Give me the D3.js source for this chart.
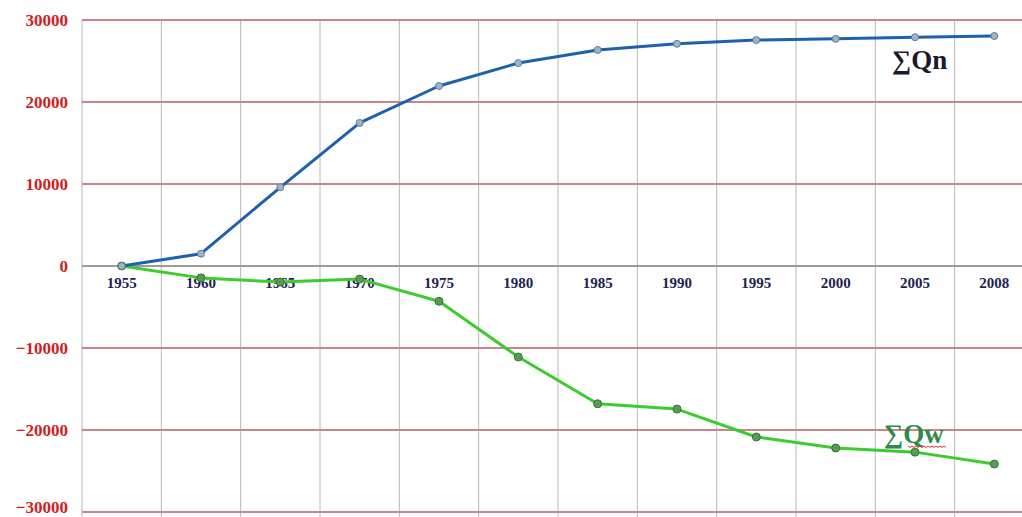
<!DOCTYPE html>
<html><head><meta charset="utf-8">
<script src="https://cdn.jsdelivr.net/npm/d3@7"></script>
<style>body{margin:0;background:#fff}svg{display:block}</style>
</head><body><svg id="c" width="1022" height="517"></svg>
<script>
const years = ["1955","1960","1965","1970","1975","1980","1985","1990","1995","2000","2005","2008"];
const qn = [0,1500,9600,17450,21950,24750,26350,27100,27550,27700,27900,28050];
const qw = [0,-1450,-1950,-1600,-4300,-11100,-16800,-17450,-20850,-22200,-22700,-24150];
const yTicks = [30000,20000,10000,0,-10000,-20000,-30000];

const svg = d3.select("#c");
const x = d3.scaleBand().domain(years).range([82, 1034]);
const y = d3.scaleLinear().domain([-30000, 30000]).range([512, 20]);

// vertical grid at band edges
svg.append("g").selectAll("line").data(years).join("line")
  .attr("x1", d => x(d)).attr("x2", d => x(d))
  .attr("y1", y(30000)).attr("y2", 517)
  .attr("stroke", "#b8b8b8").attr("stroke-width", 1);

// horizontal grid
svg.append("g").selectAll("line").data(yTicks).join("line")
  .attr("x1", 82).attr("x2", 1022)
  .attr("y1", d => y(d)).attr("y2", d => y(d))
  .attr("stroke", d => d === 0 ? "#a09a9a" : "#c8868c").attr("stroke-width", 2);

// y labels
const yAxis = d3.axisLeft(y).tickValues(yTicks).tickSize(0).tickPadding(0).tickFormat(d3.format("d"));
const ga = svg.append("g").attr("transform", "translate(68,0)").call(yAxis);
ga.select(".domain").remove();
ga.selectAll("text").attr("fill", "#d01e24").attr("font-family", "Liberation Serif")
  .attr("font-weight", "bold").attr("font-size", 17)
  .attr("dy", d => d === -30000 ? "0.05em" : "0.35em");

// x labels
const xAxis = d3.axisBottom(x).tickSize(0).tickPadding(0);
const gx = svg.append("g").attr("transform", `translate(0,${y(0)})`).call(xAxis);
gx.select(".domain").remove();
gx.selectAll("text").attr("fill", "#1c2350").attr("font-family", "Liberation Serif")
  .attr("font-weight", "bold").attr("font-size", 15).attr("dy", "1.45em");

const cx = d => x(d) + x.bandwidth() / 2;
const line = d3.line().x((d, i) => cx(years[i])).y(d => y(d));

// Qw series
svg.append("path").datum(qw).attr("d", line).attr("fill", "none")
  .attr("stroke", "#3ccc2e").attr("stroke-width", 3).attr("stroke-linejoin", "round");
svg.append("g").selectAll("circle").data(qw).join("circle")
  .attr("cx", (d, i) => cx(years[i])).attr("cy", d => y(d)).attr("r", 4)
  .attr("fill", "#5a9a55").attr("stroke", "#2f7a30").attr("stroke-width", 1);

// Qn series
svg.append("path").datum(qn).attr("d", line).attr("fill", "none")
  .attr("stroke", "#1f60ae").attr("stroke-width", 3).attr("stroke-linejoin", "round");
svg.append("g").selectAll("circle").data(qn).join("circle")
  .attr("cx", (d, i) => cx(years[i])).attr("cy", d => y(d)).attr("r", 3.5)
  .attr("fill", "#9fb4c8").attr("stroke", "#5d7d9d").attr("stroke-width", 1);

// series labels
svg.append("text").attr("x", 892).attr("y", 69).text("∑Qn")
  .attr("font-family", "Liberation Serif").attr("font-weight", "bold")
  .attr("font-size", 27).attr("fill", "#1a1a2a");
svg.append("text").attr("x", 884).attr("y", 443).text("∑Qw")
  .attr("font-family", "Liberation Serif").attr("font-weight", "bold")
  .attr("font-size", 27).attr("fill", "#2e8a4a");
// red squiggle under Qw
const sq = d3.range(0, 40, 2).map(i => [908 + i, 446 + (i % 4 === 0 ? 0 : 1.5)]);
svg.append("path").attr("d", d3.line()(sq)).attr("fill", "none")
  .attr("stroke", "#e03030").attr("stroke-width", 1);
</script></body></html>
